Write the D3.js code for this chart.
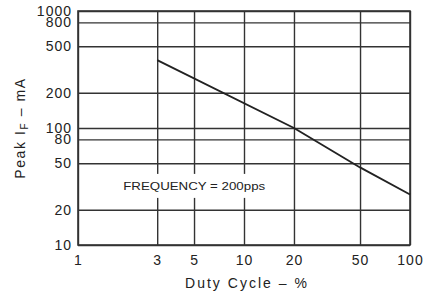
<!DOCTYPE html>
<html>
<head>
<meta charset="utf-8">
<script src="https://cdn.jsdelivr.net/npm/d3@7"></script>
<style>
  body { margin: 0; background: #fff; }
  text { font-family: "Liberation Sans", Arial, sans-serif; fill: #222; }
</style>
</head>
<body>
<svg id="chart"></svg>
<script>
const dutyCycle = [3, 20, 50, 100];
const peakCurrent = [380, 100, 46, 27];
const xTicks = [1, 3, 5, 10, 20, 50, 100];
const yTicks = [10, 20, 50, 80, 100, 200, 500, 800, 1000];
const note = "FREQUENCY = 200pps";

const width = 427, height = 293;
const margin = { top: 11, right: 17, bottom: 48, left: 78 };
const innerWidth = width - margin.left - margin.right;
const innerHeight = height - margin.top - margin.bottom;

const svg = d3.select("#chart")
    .attr("width", width)
    .attr("height", height);

const g = svg.append("g")
    .attr("transform", `translate(${margin.left},${margin.top})`);

const x = d3.scaleLog().domain([1, 100]).range([0, innerWidth]);
const y = d3.scaleLog().domain([10, 1000]).range([innerHeight, 0]);

// grid
g.append("g")
    .attr("transform", `translate(0,${innerHeight})`)
    .call(d3.axisBottom(x).tickValues(xTicks).tickSize(-innerHeight).tickFormat(d3.format("d")).tickPadding(10))
    .call(a => a.select(".domain").remove())
    .call(a => a.selectAll("line").attr("stroke", "#333").attr("stroke-width", 1.4))
    .call(a => a.selectAll("text").attr("font-size", 14).attr("letter-spacing", 1).attr("fill", "#222"));

g.append("g")
    .call(d3.axisLeft(y).tickValues(yTicks).tickSize(-innerWidth).tickFormat(d3.format("d")).tickPadding(6))
    .call(a => a.select(".domain").remove())
    .call(a => a.selectAll("line").attr("stroke", "#333").attr("stroke-width", 1.4))
    .call(a => a.selectAll("text").attr("font-size", 14).attr("letter-spacing", 1).attr("fill", "#222"));

// frame
g.append("rect")
    .attr("width", innerWidth)
    .attr("height", innerHeight)
    .attr("fill", "none")
    .attr("stroke", "#333")
    .attr("stroke-width", 1.6);

// note with white box
const noteG = g.append("g")
    .attr("transform", `translate(${x(3) - 34},${y(32)})`);
noteG.append("rect")
    .attr("x", -2).attr("y", -12)
    .attr("width", 148).attr("height", 24)
    .attr("fill", "#fff");
noteG.append("text")
    .attr("y", 4)
    .attr("font-size", 10)
    .attr("textLength", 142)
    .attr("lengthAdjust", "spacingAndGlyphs")
    .text(note);

// curve
const pts = dutyCycle.map((d, i) => [d, peakCurrent[i]]);
g.append("path")
    .datum(pts)
    .attr("fill", "none")
    .attr("stroke", "#222")
    .attr("stroke-width", 1.9)
    .attr("d", d3.line().x(d => x(d[0])).y(d => y(d[1])));

// axis titles
svg.append("text")
    .attr("x", 246)
    .attr("y", 288)
    .attr("text-anchor", "middle")
    .attr("font-size", 14)
    .attr("textLength", 122)
    .attr("lengthAdjust", "spacing")
    .text("Duty Cycle – %");

const yl = svg.append("text")
    .attr("transform", `translate(25,${margin.top + y(100)}) rotate(-90)`)
    .attr("text-anchor", "middle")
    .attr("font-size", 14)
    .attr("letter-spacing", 1.6);
yl.append("tspan").text("Peak I");
yl.append("tspan").attr("font-size", 10).attr("dy", 3).text("F");
yl.append("tspan").attr("dy", -3).text(" – mA");
</script>
</body>
</html>
